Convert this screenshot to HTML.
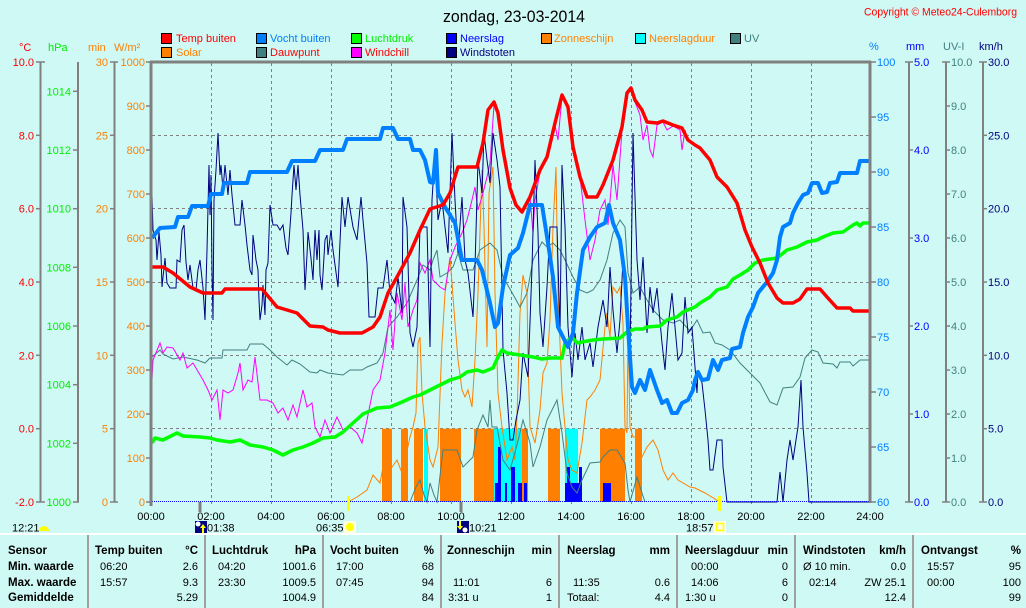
<!DOCTYPE html>
<html><head><meta charset="utf-8"><style>
html,body{margin:0;padding:0;background:#cff9f5;}
svg{display:block;font-family:"Liberation Sans",Arial,sans-serif;}
.ax{font-size:11px;}
.lg{font-size:11px;}
.tb{font-size:11px;fill:#000;}
.th{font-size:11.5px;font-weight:bold;fill:#000;}
</style></head><body>
<svg width="1026" height="608" viewBox="0 0 1026 608" xmlns="http://www.w3.org/2000/svg">
<rect x="0" y="0" width="1026" height="608" fill="#cff9f5"/>
<!-- title -->
<text x="443" y="22" font-size="17" textLength="142" lengthAdjust="spacingAndGlyphs" fill="#000">zondag, 23-03-2014</text>
<text x="864" y="15.5" font-size="11" textLength="153" lengthAdjust="spacingAndGlyphs" fill="#ff0000">Copyright © Meteo24-Culemborg</text>

<!-- legend -->
<g class="lg" stroke="none">
<rect x="161.5" y="33.5" width="10" height="10" fill="#ff0000" stroke="#000"/><text x="176" y="42" fill="#ff0000">Temp buiten</text>
<rect x="256.5" y="33.5" width="10" height="10" fill="#0080ff" stroke="#000"/><text x="270" y="42" fill="#0080ff">Vocht buiten</text>
<rect x="351.5" y="33.5" width="10" height="10" fill="#00ff00" stroke="#000"/><text x="365" y="42" fill="#00ee00">Luchtdruk</text>
<rect x="446.5" y="33.5" width="10" height="10" fill="#0000ff" stroke="#000"/><text x="460" y="42" fill="#0000ff">Neerslag</text>
<rect x="541.5" y="33.5" width="10" height="10" fill="#ff8000" stroke="#000"/><text x="554" y="42" fill="#ff8000">Zonneschijn</text>
<rect x="635.5" y="33.5" width="10" height="10" fill="#00ffff" stroke="#000"/><text x="649" y="42" fill="#ff8000">Neerslagduur</text>
<rect x="730.5" y="33.5" width="10" height="10" fill="#408080" stroke="#000"/><text x="744" y="42" fill="#408080">UV</text>
<rect x="161.5" y="47.5" width="10" height="10" fill="#ff8000" stroke="#000"/><text x="176" y="56" fill="#ff8000">Solar</text>
<rect x="256.5" y="47.5" width="10" height="10" fill="#408080" stroke="#000"/><text x="270" y="56" fill="#ff0000">Dauwpunt</text>
<rect x="351.5" y="47.5" width="10" height="10" fill="#ff00ff" stroke="#000"/><text x="365" y="56" fill="#ff0000">Windchill</text>
<rect x="446.5" y="47.5" width="10" height="10" fill="#000080" stroke="#000"/><text x="460" y="56" fill="#000080">Windstoten</text>
</g>

<!-- unit headers -->
<g class="ax">
<text x="19" y="51" fill="#ff0000">°C</text>
<text x="48" y="51" fill="#00ee00">hPa</text>
<text x="88" y="51" fill="#ff8000">min</text>
<text x="114" y="51" fill="#ff8000">W/m²</text>
<text x="869" y="50" fill="#0080ff">%</text>
<text x="906" y="50" fill="#0000ff">mm</text>
<text x="943" y="50" fill="#408080">UV-I</text>
<text x="979" y="50" fill="#000080">km/h</text>
</g>

<!-- left axes lines -->
<g stroke="#808080" stroke-width="2" fill="none">
<line x1="40.5" y1="62" x2="40.5" y2="502"/>
<line x1="78" y1="62" x2="78" y2="502"/>
<line x1="114.5" y1="62" x2="114.5" y2="502"/>
<line x1="909" y1="62" x2="909" y2="502"/>
<line x1="946" y1="62" x2="946" y2="502"/>
<line x1="983" y1="62" x2="983" y2="502"/>
</g>
<g stroke="#808080" stroke-width="1.5">
<!-- temp ticks -->
<line x1="36" y1="62" x2="45" y2="62"/><line x1="36" y1="135.3" x2="41" y2="135.3"/><line x1="36" y1="208.7" x2="41" y2="208.7"/><line x1="36" y1="282" x2="41" y2="282"/><line x1="36" y1="355.3" x2="41" y2="355.3"/><line x1="36" y1="428.7" x2="41" y2="428.7"/><line x1="36" y1="502" x2="45" y2="502"/>
<!-- hPa ticks -->
<line x1="73" y1="91.3" x2="79" y2="91.3"/><line x1="73" y1="150" x2="79" y2="150"/><line x1="73" y1="208.7" x2="79" y2="208.7"/><line x1="73" y1="267.3" x2="79" y2="267.3"/><line x1="73" y1="326" x2="79" y2="326"/><line x1="73" y1="384.7" x2="79" y2="384.7"/><line x1="73" y1="443.3" x2="79" y2="443.3"/><line x1="73" y1="502" x2="79" y2="502"/>
<!-- min ticks -->
<line x1="110" y1="62" x2="118" y2="62"/><line x1="110" y1="135.3" x2="115" y2="135.3"/><line x1="110" y1="208.7" x2="115" y2="208.7"/><line x1="110" y1="282" x2="115" y2="282"/><line x1="110" y1="355.3" x2="115" y2="355.3"/><line x1="110" y1="428.7" x2="115" y2="428.7"/><line x1="110" y1="502" x2="118" y2="502"/>
<!-- W ticks -->
<line x1="146" y1="62" x2="151" y2="62"/><line x1="146" y1="106" x2="151" y2="106"/><line x1="146" y1="150" x2="151" y2="150"/><line x1="146" y1="194" x2="151" y2="194"/><line x1="146" y1="238" x2="151" y2="238"/><line x1="146" y1="282" x2="151" y2="282"/><line x1="146" y1="326" x2="151" y2="326"/><line x1="146" y1="370" x2="151" y2="370"/><line x1="146" y1="414" x2="151" y2="414"/><line x1="146" y1="458" x2="151" y2="458"/><line x1="146" y1="502" x2="151" y2="502"/>
<!-- % ticks -->
<line x1="870" y1="62" x2="876" y2="62"/><line x1="870" y1="117" x2="876" y2="117"/><line x1="870" y1="172" x2="876" y2="172"/><line x1="870" y1="227" x2="876" y2="227"/><line x1="870" y1="282" x2="876" y2="282"/><line x1="870" y1="337" x2="876" y2="337"/><line x1="870" y1="392" x2="876" y2="392"/><line x1="870" y1="447" x2="876" y2="447"/><line x1="870" y1="502" x2="876" y2="502"/>
<!-- mm ticks -->
<line x1="905" y1="62" x2="913" y2="62"/><line x1="909" y1="150" x2="913" y2="150"/><line x1="909" y1="238" x2="913" y2="238"/><line x1="909" y1="326" x2="913" y2="326"/><line x1="909" y1="414" x2="913" y2="414"/><line x1="905" y1="502" x2="913" y2="502"/>
<!-- UV ticks -->
<line x1="942" y1="62" x2="950" y2="62"/><line x1="946" y1="106" x2="950" y2="106"/><line x1="946" y1="150" x2="950" y2="150"/><line x1="946" y1="194" x2="950" y2="194"/><line x1="946" y1="238" x2="950" y2="238"/><line x1="946" y1="282" x2="950" y2="282"/><line x1="946" y1="326" x2="950" y2="326"/><line x1="946" y1="370" x2="950" y2="370"/><line x1="946" y1="414" x2="950" y2="414"/><line x1="946" y1="458" x2="950" y2="458"/><line x1="942" y1="502" x2="950" y2="502"/>
<!-- km/h ticks -->
<line x1="979" y1="62" x2="987" y2="62"/><line x1="983" y1="135.3" x2="987" y2="135.3"/><line x1="983" y1="208.7" x2="987" y2="208.7"/><line x1="983" y1="282" x2="987" y2="282"/><line x1="983" y1="355.3" x2="987" y2="355.3"/><line x1="983" y1="428.7" x2="987" y2="428.7"/><line x1="979" y1="502" x2="987" y2="502"/>
</g>

<!-- left labels -->
<g class="ax" text-anchor="end">
<g fill="#ff0000"><text x="34" y="66">10.0</text><text x="34" y="139.3">8.0</text><text x="34" y="212.7">6.0</text><text x="34" y="286">4.0</text><text x="34" y="359.3">2.0</text><text x="34" y="432.7">0.0</text><text x="34" y="506">-2.0</text></g>
<g fill="#00ee00"><text x="71" y="95.3">1014</text><text x="71" y="154">1012</text><text x="71" y="212.7">1010</text><text x="71" y="271.3">1008</text><text x="71" y="330">1006</text><text x="71" y="388.7">1004</text><text x="71" y="447.3">1002</text><text x="71" y="506">1000</text></g>
<g fill="#ff8000"><text x="108" y="66">30</text><text x="108" y="139.3">25</text><text x="108" y="212.7">20</text><text x="108" y="286">15</text><text x="108" y="359.3">10</text><text x="108" y="432.7">5</text><text x="108" y="506">0</text></g>
<g fill="#ff8000"><text x="145" y="66">1000</text><text x="145" y="110">900</text><text x="145" y="154">800</text><text x="145" y="198">700</text><text x="145" y="242">600</text><text x="145" y="286">500</text><text x="145" y="330">400</text><text x="145" y="374">300</text><text x="145" y="418">200</text><text x="145" y="462">100</text><text x="145" y="506">0</text></g>
</g>
<!-- right labels -->
<g class="ax">
<g fill="#0080ff"><text x="877" y="66">100</text><text x="877" y="121">95</text><text x="877" y="176">90</text><text x="877" y="231">85</text><text x="877" y="286">80</text><text x="877" y="341">75</text><text x="877" y="396">70</text><text x="877" y="451">65</text><text x="877" y="506">60</text></g>
<g fill="#0000ff"><text x="914" y="66">5.0</text><text x="914" y="154">4.0</text><text x="914" y="242">3.0</text><text x="914" y="330">2.0</text><text x="914" y="418">1.0</text><text x="914" y="506">0.0</text></g>
<g fill="#408080"><text x="951" y="66">10.0</text><text x="951" y="110">9.0</text><text x="951" y="154">8.0</text><text x="951" y="198">7.0</text><text x="951" y="242">6.0</text><text x="951" y="286">5.0</text><text x="951" y="330">4.0</text><text x="951" y="374">3.0</text><text x="951" y="418">2.0</text><text x="951" y="462">1.0</text><text x="951" y="506">0.0</text></g>
<g fill="#000080"><text x="988" y="66">30.0</text><text x="988" y="139.3">25.0</text><text x="988" y="212.7">20.0</text><text x="988" y="286">15.0</text><text x="988" y="359.3">10.0</text><text x="988" y="432.7">5.0</text><text x="988" y="506">0.0</text></g>
</g>

<!-- grid -->
<g stroke="#808080" stroke-width="1" stroke-dasharray="3,3" fill="none">
<line x1="211.5" y1="63" x2="211.5" y2="506"/><line x1="271.5" y1="63" x2="271.5" y2="506"/><line x1="331.5" y1="63" x2="331.5" y2="506"/><line x1="391.5" y1="63" x2="391.5" y2="506"/><line x1="451.5" y1="63" x2="451.5" y2="506"/><line x1="511.5" y1="63" x2="511.5" y2="506"/><line x1="571.5" y1="63" x2="571.5" y2="506"/><line x1="631.5" y1="63" x2="631.5" y2="506"/><line x1="691.5" y1="63" x2="691.5" y2="506"/><line x1="751.5" y1="63" x2="751.5" y2="506"/><line x1="811.5" y1="63" x2="811.5" y2="506"/>
<line x1="152" y1="135.5" x2="869" y2="135.5"/><line x1="152" y1="208.5" x2="869" y2="208.5"/><line x1="152" y1="282.5" x2="869" y2="282.5"/><line x1="152" y1="355.5" x2="869" y2="355.5"/><line x1="152" y1="428.5" x2="869" y2="428.5"/>
</g>

<!-- sunshine bars -->
<g fill="#ff8000">
<rect x="382" y="428.7" width="10" height="73.3"/><rect x="401" y="428.7" width="7" height="73.3"/><rect x="414" y="428.7" width="9" height="73.3"/><rect x="440" y="428.7" width="21" height="73.3"/><rect x="474" y="428.7" width="20" height="73.3"/><rect x="522" y="428.7" width="6" height="73.3"/><rect x="548" y="428.7" width="12" height="73.3"/><rect x="600" y="428.7" width="25" height="73.3"/><rect x="635" y="428.7" width="7" height="73.3"/>
</g>
<g fill="#00ffff">
<rect x="424" y="428.7" width="4" height="73.3"/><rect x="494" y="428.7" width="28" height="73.3"/><rect x="565" y="428.7" width="13" height="73.3"/>
</g>
<g fill="#0000ff">
<rect x="495" y="483" width="3" height="19"/><rect x="498" y="447" width="3" height="55"/><rect x="505" y="483" width="2" height="19"/><rect x="511" y="467" width="4" height="35"/><rect x="518" y="483" width="4" height="19"/><rect x="524" y="483" width="3" height="19"/><rect x="565" y="483" width="17" height="19"/><rect x="567" y="467" width="3" height="35"/><rect x="579" y="467" width="3" height="35"/><rect x="603" y="483" width="8" height="19"/>
</g>

<!-- solar -->
<polyline fill="none" stroke="#ff8000" stroke-width="1" points="348,502 357,497 367,490 373,475 380,483 383,467 390,470 397,460 402,473 405,460 410,437 413,427 416,413 418,343 420,337 422,393 425,427 430,460 433,467 438,447 442,343 445,293 450,257 455,323 458,360 462,390 465,397 468,390 472,407 475,360 478,293 482,170 484,227 487,347 489,193 493,167 495,293 498,393 502,427 507,460 512,447 515,460 517,417 520,313 523,275 527,293 528,360 530,427 535,443 540,410 543,373 547,363 550,320 553,227 556,167 558,293 562,393 565,427 568,460 572,470 577,473 582,443 587,400 590,397 595,390 600,380 605,327 607,313 610,337 613,287 617,293 620,287 623,323 625,427 627,433 628,327 630,427 633,437 637,437 642,457 647,447 653,440 658,450 663,470 668,480 673,473 678,480 683,483 690,487 695,488 705,493 720,502"/>
<!-- UV -->
<polyline fill="none" stroke="#408080" stroke-width="1" points="410,502 416,487 420,480 424,495 427,502 430,483 434,495 437,502 443,450 457,450 463,467 473,457 477,430 483,415 488,427 490,400 492,427 497,427 503,460 510,470 517,445 523,420 530,443 533,467 540,447 547,420 557,400 562,433 567,473 572,487 577,493 582,480 590,463 600,462 603,457 610,450 617,450 625,463 628,490 630,502 637,477 642,493 645,502"/>
<!-- dewpoint -->
<polyline fill="none" stroke="#408080" stroke-width="1" points="152,357 160,350 163,354 173,359 183,357 197,360 205,363 210,358 222,358 223,350 247,350 250,344 263,344 270,350 277,357 287,365 292,360 300,364 310,372 317,373 320,370 328,373 343,375 350,370 362,370 367,367 377,363 383,353 388,327 397,317 407,303 417,280 423,265 430,270 433,260 437,250 440,277 447,273 453,267 458,253 463,270 473,270 480,250 490,243 497,250 503,277 510,289 520,307 527,293 533,260 542,242 547,247 553,243 560,250 565,260 573,277 580,290 587,293 593,290 600,280 607,260 613,233 620,220 625,227 628,273 633,293 640,287 647,300 653,310 663,320 673,323 680,320 690,331 697,320 703,333 710,332 715,343 722,345 730,350 740,363 750,373 760,383 770,402 777,405 783,388 793,387 800,377 805,358 812,350 818,352 823,363 833,364 837,368 840,362 850,362 853,366 860,360 869,360"/>
<!-- windchill -->
<polyline fill="none" stroke="#ff00ff" stroke-width="1" points="152,380 153,360 160,343 163,353 167,347 173,348 180,360 183,353 187,368 193,363 203,380 208,390 212,400 217,390 220,420 223,390 228,393 233,390 238,373 240,363 243,390 248,380 252,382 255,357 260,400 267,400 273,403 278,413 283,408 288,420 293,405 297,417 303,390 307,407 312,403 315,427 320,437 325,420 330,433 337,417 343,430 350,427 357,433 362,443 367,420 373,390 380,380 385,353 390,310 393,350 397,293 402,320 405,283 408,327 413,310 417,300 420,263 425,273 430,260 433,280 440,287 445,290 450,260 455,247 462,233 467,220 472,200 475,187 478,210 483,193 487,177 490,163 494,105 498,115 503,150 510,190 516,205 522,212 530,197 533,233 535,200 540,172 547,157 555,125 558,140 562,97 568,110 573,147 580,177 585,220 590,260 595,240 600,210 605,200 608,225 613,165 617,200 622,130 627,95 631,90 635,102 640,115 643,140 647,125 650,150 653,157 657,125 663,122 667,130 673,126 680,130 682,150 685,130 688,140"/>
<!-- gusts -->
<polyline fill="none" stroke="#000080" stroke-width="1" points="152,195 153,230 156,240 157,260 159,232 161,255 162,287 165,258 167,283 170,288 176,288 177,260 180,262 182,230 184,225 186,262 188,280 190,265 193,288 196,290 198,270 200,260 203,288 205,320 207,250 209,165 210,215 211,175 212,270 213,320 214,200 216,170 218,133 220,175 221,165 223,190 225,165 228,195 230,170 232,195 235,225 240,225 242,200 245,225 247,245 250,270 252,275 253,235 256,260 258,270 259,300 260,320 262,305 263,285 265,315 266,270 268,263 270,205 273,225 277,225 280,230 283,225 286,248 288,255 291,213 292,195 294,165 296,190 298,165 300,195 303,230 305,290 307,255 308,232 311,258 313,280 315,230 317,260 319,230 320,275 322,290 325,240 327,235 328,255 331,230 333,250 338,287 342,197 345,227 348,197 353,227 357,240 361,197 363,220 367,263 369,317 375,317 378,288 383,288 387,260 390,293 395,303 398,277 402,313 403,197 407,227 410,333 413,347 417,327 420,227 427,227 430,347 432,200 435,153 438,220 442,200 445,227 448,253 452,133 455,200 458,253 462,197 465,260 468,273 473,317 475,267 478,160 482,193 484,133 487,160 490,183 493,133 497,160 500,187 502,293 503,350 507,393 510,440 513,440 516,420 520,400 523,353 528,377 532,267 535,160 538,233 540,313 543,347 547,287 550,227 557,227 560,333 562,165 565,227 568,327 572,377 575,333 578,360 582,327 585,360 590,343 593,367 598,327 603,300 607,327 610,267 613,310 617,353 620,320 623,260 627,293 630,360 633,133 637,260 640,300 643,257 647,333 650,287 653,313 657,288 662,343 665,370 668,327 672,293 675,327 678,360 682,353 685,297 688,333 692,327 695,367 697,393 698,370 702,383 705,410 708,440 710,470 713,470 717,440 722,440 723,467 727,502 777,502 780,472 783,502 787,460 790,440 793,460 796,440 798,427 801,380 803,427 807,473 809,502 869,502"/>
<line x1="152" y1="501.5" x2="869" y2="501.5" stroke="#0000ff" stroke-width="1" stroke-dasharray="1,1"/>
<!-- pressure -->
<polyline fill="none" stroke="#00ff00" stroke-width="3.5" stroke-linejoin="round" points="152,443 155,438 163,440 177,433 183,436 200,437 210,438 217,440 230,442 240,440 250,445 263,447 273,450 283,455 293,450 303,447 313,443 323,438 335,437 343,432 353,423 363,414 377,408 390,407 402,402 413,397 420,395 430,390 440,385 450,380 460,377 467,372 477,370 483,372 493,368 498,357 502,350 507,353 520,355 533,357 542,359 550,358 562,358 565,343 572,337 577,343 582,342 593,340 603,339 620,338 627,332 635,329 643,329 647,327 660,326 667,320 677,317 683,312 695,307 700,303 710,297 717,290 727,287 733,279 740,275 748,270 755,263 763,260 777,258 787,250 797,247 807,242 817,240 823,237 833,233 843,232 853,225 857,223 860,226 863,223 869,223"/>
<!-- humidity -->
<polyline fill="none" stroke="#0080ff" stroke-width="4" stroke-linejoin="round" points="152,238 160,228 175,227 178,217 188,217 192,206 208,206 211,194 222,194 224,183 247,183 250,172 287,172 292,161 315,161 320,150 343,150 347,139 380,139 383,128 393,128 398,139 410,139 413,150 420,150 425,160 430,182 433,183 436,150 438,193 445,207 455,223 462,260 477,260 482,270 490,303 495,327 498,323 503,287 510,255 518,248 523,233 530,205 542,205 548,243 553,277 558,327 563,337 568,347 573,333 577,293 583,250 590,237 597,227 605,223 609,205 613,223 620,240 625,277 628,327 632,387 635,393 640,380 645,390 650,370 657,390 662,403 667,400 672,413 677,413 682,403 688,400 693,390 695,380 698,372 702,380 708,379 713,360 718,370 722,360 730,358 732,349 740,347 743,333 748,317 753,307 758,293 767,282 773,273 777,260 780,237 783,227 790,223 793,213 798,203 803,195 808,193 812,183 818,183 822,193 827,192 830,183 837,182 840,173 857,173 860,161 869,161"/>
<!-- temperature -->
<polyline fill="none" stroke="#ff0000" stroke-width="3.5" stroke-linejoin="round" points="152,267 163,267 173,273 190,287 203,293 222,293 225,289 262,289 277,307 297,313 310,326 323,327 328,330 340,333 362,333 373,327 380,317 388,293 397,277 410,253 420,230 430,209 443,205 450,193 458,167 477,167 483,143 488,110 494,102 498,113 503,150 510,188 516,205 522,212 530,197 540,170 547,157 555,123 562,95 568,107 573,147 580,177 587,197 597,197 603,185 613,160 622,127 627,93 631,88 635,100 642,110 647,122 657,123 663,121 673,125 682,128 688,140 695,145 700,148 710,160 717,177 727,187 737,203 745,230 752,247 760,263 768,283 777,298 783,303 793,303 800,299 807,289 820,289 827,297 837,308 850,308 853,311 869,311"/>

<!-- plot frame -->
<g stroke="#808080" stroke-width="3" fill="none">
<line x1="150" y1="62" x2="871" y2="62"/>
<line x1="151" y1="61" x2="151" y2="506"/>
<line x1="870" y1="61" x2="870" y2="503"/>
</g>
<!-- event ticks -->
<line x1="200" y1="502" x2="200" y2="512" stroke="#808080" stroke-width="3"/>
<line x1="461" y1="502" x2="461" y2="512" stroke="#808080" stroke-width="3"/>
<line x1="348.5" y1="496" x2="348.5" y2="511" stroke="#ffff00" stroke-width="3"/>
<line x1="719.5" y1="496" x2="719.5" y2="511" stroke="#ffff00" stroke-width="3"/>

<!-- time labels -->
<g class="ax" fill="#000" text-anchor="middle">
<text x="151" y="520">00:00</text><text x="211" y="520">02:00</text><text x="271" y="520">04:00</text><text x="331" y="520">06:00</text><text x="391" y="520">08:00</text><text x="451" y="520">10:00</text><text x="511" y="520">12:00</text><text x="571" y="520">14:00</text><text x="631" y="520">16:00</text><text x="691" y="520">18:00</text><text x="751" y="520">20:00</text><text x="811" y="520">22:00</text><text x="870" y="520">24:00</text>
</g>
<g class="ax" fill="#000">
<text x="12" y="531.5">12:21</text>
<text x="207" y="531.5">01:38</text>
<text x="316" y="531.5">06:35</text>
<text x="469" y="531.5">10:21</text>
<text x="686" y="531.5">18:57</text>
</g>
<!-- icons -->
<path d="M39,531 A5,5 0 0 1 49,531 Z" fill="#ffff00"/>
<rect x="195" y="521" width="12" height="12" fill="#000080"/>
<circle cx="198" cy="524" r="2.5" fill="#ffffff"/>
<path d="M203,524 L206,528 L204,528 L204,533 L202,533 L202,528 L200,528 Z" fill="#ffff00"/>
<rect x="344" y="521" width="12" height="12" fill="#ffffe0"/>
<circle cx="350" cy="527" r="4" fill="#ffff00"/>
<rect x="457" y="521" width="12" height="12" fill="#000080"/>
<circle cx="465" cy="530" r="2.5" fill="#ffffff"/>
<path d="M460,530 L457,526 L459,526 L459,521 L461,521 L461,526 L463,526 Z" fill="#ffff00"/>
<rect x="714" y="521" width="12" height="12" fill="#ffffe0"/>
<rect x="716.5" y="523.5" width="7" height="7" fill="none" stroke="#ffff00" stroke-width="1.5"/>

<!-- table -->
<line x1="0" y1="534" x2="1026" y2="534" stroke="#ffffff" stroke-width="2"/>
<g stroke="#a0a0a0" stroke-width="2">
<line x1="88" y1="535" x2="88" y2="608"/><line x1="205" y1="535" x2="205" y2="608"/><line x1="323" y1="535" x2="323" y2="608"/><line x1="441" y1="535" x2="441" y2="608"/><line x1="559" y1="535" x2="559" y2="608"/><line x1="677" y1="535" x2="677" y2="608"/><line x1="795" y1="535" x2="795" y2="608"/><line x1="913" y1="535" x2="913" y2="608"/>
</g>
<g class="th">
<text x="8" y="554">Sensor</text><text x="8" y="570">Min. waarde</text><text x="8" y="586">Max. waarde</text><text x="8" y="601">Gemiddelde</text>
<text x="95" y="554">Temp buiten</text><text x="198" y="554" text-anchor="end">°C</text>
<text x="212" y="554">Luchtdruk</text><text x="316" y="554" text-anchor="end">hPa</text>
<text x="330" y="554">Vocht buiten</text><text x="434" y="554" text-anchor="end">%</text>
<text x="447" y="554">Zonneschijn</text><text x="552" y="554" text-anchor="end">min</text>
<text x="567" y="554">Neerslag</text><text x="670" y="554" text-anchor="end">mm</text>
<text x="685" y="554">Neerslagduur</text><text x="788" y="554" text-anchor="end">min</text>
<text x="803" y="554">Windstoten</text><text x="906" y="554" text-anchor="end">km/h</text>
<text x="921" y="554">Ontvangst</text><text x="1021" y="554" text-anchor="end">%</text>
</g>
<g class="tb">
<text x="100" y="570">06:20</text><text x="100" y="586">15:57</text>
<text x="218" y="570">04:20</text><text x="218" y="586">23:30</text>
<text x="336" y="570">17:00</text><text x="336" y="586">07:45</text>
<text x="453" y="586">11:01</text><text x="448" y="601">3:31 u</text>
<text x="573" y="586">11:35</text><text x="567" y="601">Totaal:</text>
<text x="691" y="570">00:00</text><text x="691" y="586">14:06</text><text x="685" y="601">1:30 u</text>
<text x="803" y="570">Ø 10 min.</text><text x="809" y="586">02:14</text>
<text x="927" y="570">15:57</text><text x="927" y="586">00:00</text>
</g>
<g class="tb" text-anchor="end">
<text x="198" y="570">2.6</text><text x="198" y="586">9.3</text><text x="198" y="601">5.29</text>
<text x="316" y="570">1001.6</text><text x="316" y="586">1009.5</text><text x="316" y="601">1004.9</text>
<text x="434" y="570">68</text><text x="434" y="586">94</text><text x="434" y="601">84</text>
<text x="552" y="586">6</text><text x="552" y="601">1</text>
<text x="670" y="586">0.6</text><text x="670" y="601">4.4</text>
<text x="788" y="570">0</text><text x="788" y="586">6</text><text x="788" y="601">0</text>
<text x="906" y="570">0.0</text><text x="906" y="586">ZW 25.1</text><text x="906" y="601">12.4</text>
<text x="1021" y="570">95</text><text x="1021" y="586">100</text><text x="1021" y="601">99</text>
</g>
</svg>
</body></html>
